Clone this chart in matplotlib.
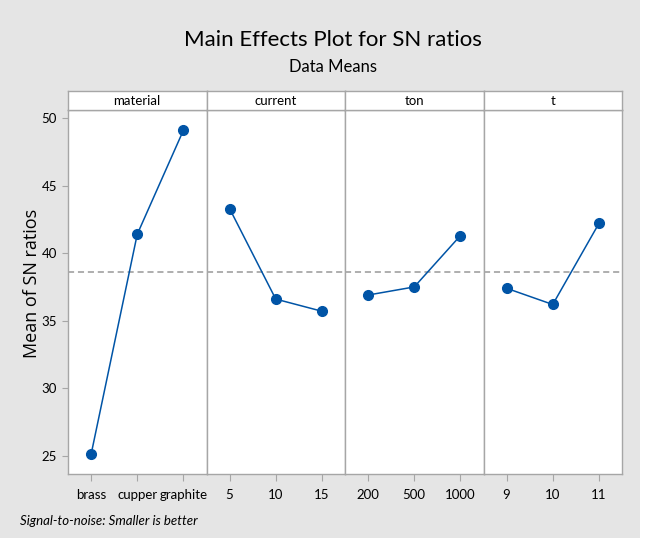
import matplotlib.pyplot as plt
from matplotlib.patches import Rectangle

plt.rcParams['font.family'] = ['Lato', 'DejaVu Sans']

factors = ["material", "current", "ton", "t"]
levels = [
    ["brass", "cupper", "graphite"],
    ["5", "10", "15"],
    ["200", "500", "1000"],
    ["9", "10", "11"],
]
sn_means = [
    [25.1, 41.4, 49.1],
    [43.3, 36.6, 35.7],
    [36.9, 37.5, 41.3],
    [37.4, 36.2, 42.2],
]
grand_mean = 38.57

W, H = 646, 543
fig = plt.figure(figsize=(W / 100, H / 100), dpi=100, facecolor="white")
fig.patches.append(Rectangle((0, 5 / H), 640 / W, 1 - 5 / H, transform=fig.transFigure,
                             facecolor="#e5e5e5", edgecolor="none", zorder=-10))

left, right = 68 / W, 622 / W
bottom, top, strip_top = 1 - 474 / H, 1 - 110 / H, 1 - 91 / H
pw = (right - left) / len(factors)
frame = "#a6a6a6"
blue = "#0054a6"

for i, (name, labs, vals) in enumerate(zip(factors, levels, sn_means)):
    ax = fig.add_axes([left + i * pw, bottom, pw, top - bottom])
    ax.plot(range(3), vals, color=blue, lw=1.1, marker="o", ms=7,
            markeredgecolor=blue, markerfacecolor=blue, zorder=3)
    ax.axhline(grand_mean, color="#999999", lw=1.1, ls=(0, (4, 2.5)), zorder=1)
    ax.set_xlim(-0.5, 2.5)
    ax.set_ylim(23.65, 50.6)
    ax.set_xticks(range(3))
    ax.set_xticklabels(labs, fontsize=9.5)
    ax.set_yticks([25, 30, 35, 40, 45, 50])
    ax.tick_params(axis="both", color=frame, length=4, width=0.8, pad=4)
    ax.tick_params(axis="x", length=5, pad=6)
    if i == 0:
        ax.set_yticklabels(["25", "30", "35", "40", "45", "50"], fontsize=9.5)
    else:
        ax.tick_params(axis="y", left=False, labelleft=False)
    for sp in ax.spines.values():
        sp.set_color(frame)
        sp.set_linewidth(1.0)

    sax = fig.add_axes([left + i * pw, top, pw, strip_top - top])
    sax.set_xticks([])
    sax.set_yticks([])
    sax.set_facecolor("white")
    for sp in sax.spines.values():
        sp.set_color(frame)
        sp.set_linewidth(1.0)
    sax.text(0.5, 0.45, name, ha="center", va="center", fontsize=9.5,
             transform=sax.transAxes)

fig.text(32 / W, 1 - 283 / H, "Mean of SN ratios", rotation=90, ha="center", va="center",
         fontsize=13, family=["Open Sans", "DejaVu Sans"])
fig.text(0.515, 1 - 40 / H, "Main Effects Plot for SN ratios", ha="center", va="center",
         fontsize=16)
fig.text(0.515, 1 - 67 / H, "Data Means", ha="center", va="center", fontsize=12)
fig.text(20 / W, 1 - 521 / H, "Signal-to-noise: Smaller is better", ha="left", va="center",
         fontsize=9.5, style="italic")

fig.savefig("out.png", dpi=100, facecolor=fig.get_facecolor())
